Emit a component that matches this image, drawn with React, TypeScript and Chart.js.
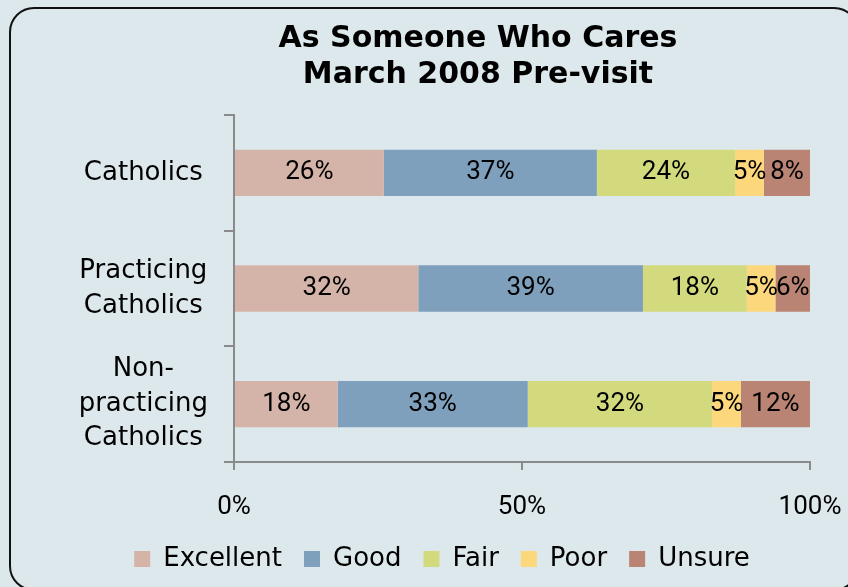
import { useEffect, useRef } from "react";
import { Chart, registerables } from "chart.js";

Chart.register(...registerables);

const titleLines = ["As Someone Who Cares", "March 2008 Pre-visit"];
const categories: (string | string[])[] = [
  "Catholics",
  ["Practicing", "Catholics"],
  ["Non-", "practicing", "Catholics"],
];
const seriesNames = ["Excellent", "Good", "Fair", "Poor", "Unsure"];
const excellent = [26, 32, 18];
const good = [37, 39, 33];
const fair = [24, 18, 32];
const poor = [5, 5, 5];
const unsure = [8, 6, 12];
const seriesColors = ["#d4b4a8", "#7fa0bd", "#d2da7d", "#fcd77b", "#b98473"];
const xTickValues = [0, 50, 100];

const LETTER_FONT = "'DejaVu Sans', sans-serif";
const NUMBER_FONT = "Roboto, sans-serif";
const AXIS_COLOR = "#8a8a8a";
const BG = "#dde8ec";

const barLabels = {
  id: "barLabels",
  afterDatasetsDraw(chart: any) {
    const ctx = chart.ctx;
    ctx.save();
    ctx.font = `26px ${NUMBER_FONT}`;
    ctx.fillStyle = "#000";
    ctx.textAlign = "center";
    ctx.textBaseline = "middle";
    chart.data.datasets.forEach((ds: any, i: number) => {
      const meta = chart.getDatasetMeta(i);
      meta.data.forEach((bar: any, j: number) => {
        const p = bar.getProps(["x", "y", "base"], true);
        ctx.fillText(ds.data[j] + "%", (p.x + p.base) / 2, p.y);
      });
    });
    ctx.restore();
  },
};

const placeBlocks = {
  id: "placeBlocks",
  afterLayout(chart: any) {
    const t = chart.titleBlock;
    if (t) {
      t.left = 108;
      t.right = 848;
    }
    const l = chart.legend;
    if (l) {
      l.left = 36;
      l.right = 848;
    }
  },
};

export default function App() {
  const ref = useRef<HTMLCanvasElement | null>(null);

  useEffect(() => {
    if (!ref.current) return;
    const values = [excellent, good, fair, poor, unsure];
    const chart = new Chart(ref.current, {
      type: "bar",
      data: {
        labels: categories as any,
        datasets: seriesNames.map((name, i) => ({
          label: name,
          data: values[i],
          backgroundColor: seriesColors[i],
          borderWidth: 0,
          categoryPercentage: 1,
          barPercentage: 0.4,
        })),
      },
      options: {
        indexAxis: "y",
        responsive: false,
        animation: false,
        layout: { padding: { left: 0, right: 38, top: 0, bottom: 5 } },
        plugins: {
          tooltip: { enabled: false },
          title: {
            display: true,
            text: titleLines,
            color: "#000",
            font: { family: LETTER_FONT, size: 30, weight: "bold", lineHeight: 1.2 },
            padding: { top: 21, bottom: 22 },
          },
          legend: {
            display: true,
            position: "bottom",
            labels: {
              color: "#000",
              font: { family: LETTER_FONT, size: 26 },
              boxWidth: 16,
              boxHeight: 16,
              padding: 22,
            },
          },
        },
        scales: {
          x: {
            type: "linear",
            stacked: true,
            min: 0,
            max: 100,
            afterBuildTicks: (s: any) => {
              s.ticks = xTickValues.map((v) => ({ value: v }));
            },
            afterFit: (s: any) => {
              s.height = 62;
              s.paddingLeft = 0;
              s.paddingRight = 0;
            },
            grid: {
              drawOnChartArea: false,
              drawTicks: true,
              tickLength: 8,
              color: AXIS_COLOR,
              lineWidth: 2,
            },
            border: { display: true, color: AXIS_COLOR, width: 2 },
            ticks: {
              color: "#000",
              font: { family: NUMBER_FONT, size: 26, lineHeight: 1.2 },
              padding: 22,
              maxRotation: 0,
              callback: (v: any) => v + "%",
            },
          },
          y: {
            type: "category",
            stacked: true,
            afterFit: (s: any) => {
              s.width = 234;
            },
            grid: {
              offset: true,
              drawOnChartArea: false,
              drawTicks: true,
              tickLength: 10,
              color: AXIS_COLOR,
              lineWidth: 2,
            },
            border: { display: true, color: AXIS_COLOR, width: 2 },
            ticks: {
              color: "#000",
              font: { family: LETTER_FONT, size: 26, lineHeight: 1.33 },
              padding: 16,
              crossAlign: "center",
            },
          },
        },
      },
      plugins: [barLabels, placeBlocks],
    });
    return () => chart.destroy();
  }, []);

  return (
    <div
      style={{
        position: "fixed",
        left: 0,
        top: 0,
        width: 848,
        height: 587,
        overflow: "hidden",
        background: BG,
      }}
    >
      <canvas
        ref={ref}
        width={848}
        height={587}
        style={{ position: "absolute", left: 0, top: 0, width: 848, height: 587 }}
      />
      <div
        style={{
          position: "absolute",
          left: 9,
          top: 7,
          width: 846,
          height: 580,
          border: "2px solid #111",
          borderRadius: 25,
          pointerEvents: "none",
        }}
      />
    </div>
  );
}
